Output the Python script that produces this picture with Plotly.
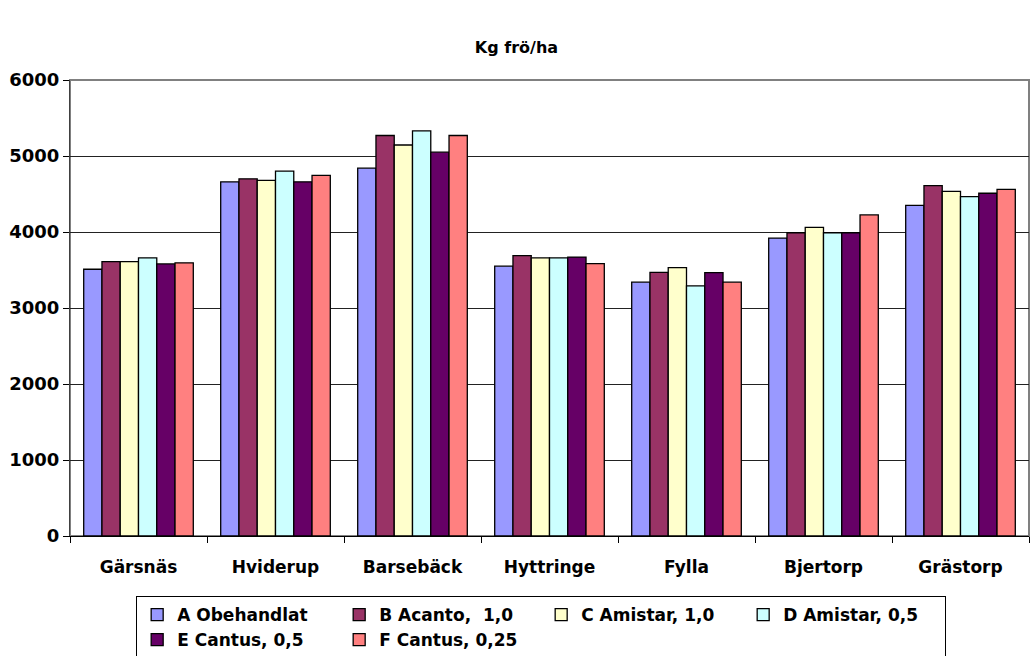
import plotly.graph_objects as go

categories = ["Gärsnäs", "Hviderup", "Barsebäck", "Hyttringe", "Fylla", "Bjertorp", "Grästorp"]
series_names = ["A Obehandlat", "B Acanto,  1,0", "C Amistar, 1,0", "D Amistar, 0,5", "E Cantus, 0,5", "F Cantus, 0,25"]
a_vals = [3510, 4660, 4840, 3550, 3340, 3920, 4350]
b_vals = [3610, 4700, 5270, 3690, 3470, 3990, 4610]
c_vals = [3610, 4680, 5145, 3660, 3530, 4060, 4535]
d_vals = [3660, 4800, 5330, 3660, 3290, 3990, 4465]
e_vals = [3580, 4660, 5050, 3670, 3465, 3990, 4510]
f_vals = [3595, 4745, 5270, 3585, 3340, 4225, 4560]
y_ticks = [0, 1000, 2000, 3000, 4000, 5000, 6000]
colors = ["#9999FF", "#993366", "#FFFFCC", "#CCFFFF", "#660066", "#FF8080"]

values = [a_vals, b_vals, c_vals, d_vals, e_vals, f_vals]
FONT = "DejaVu Sans, Arial, sans-serif"

fig = go.Figure()
for name, vals, col in zip(series_names, values, colors):
    fig.add_trace(go.Bar(
        x=categories, y=vals, name="<b>" + name + "</b>",
        marker=dict(color=col, line=dict(color="#000000", width=1.3)),
    ))

fig.update_layout(
    width=1033, height=656,
    margin=dict(l=70, r=4, t=80, b=120, autoexpand=False),
    paper_bgcolor="white", plot_bgcolor="white",
    barmode="group", bargap=0.2, bargroupgap=0,
    font=dict(family=FONT, color="#000000"),
    title=dict(text="<b>Kg frö/ha</b>", x=0.5, xanchor="center", y=0.928, yanchor="middle",
               font=dict(size=16, family=FONT)),
    showlegend=True,
    legend=dict(
        orientation="h", x=0.069, xanchor="left", y=-0.1316, yanchor="top",
        entrywidth=157, entrywidthmode="pixels",
        bordercolor="#000000", borderwidth=1,
        font=dict(size=17, family=FONT),
        traceorder="normal", itemwidth=30,
    ),
    xaxis=dict(
        showline=True, linecolor="#000000", linewidth=1,
        ticks="outside", tickson="boundaries", ticklen=6, tickcolor="#000000",
        tickfont=dict(size=17, family=FONT),
        tickprefix="<b>", ticksuffix="</b>",
        ticklabelstandoff=16,
        showgrid=False,
    ),
    yaxis=dict(
        range=[0, 6000], tickvals=y_ticks,
        ticktext=[f"<b>{t}</b>" for t in y_ticks],
        showline=True, linecolor="#404040", linewidth=1,
        ticks="outside", ticklen=6, tickcolor="#000000",
        tickfont=dict(size=18, family=FONT),
        showgrid=True, gridcolor="#222222", gridwidth=1,
        zeroline=False,
    ),
)

# gray plot border (top and right)
fig.add_shape(type="rect", xref="x domain", yref="y domain", x0=0, x1=1, y0=0, y1=1,
              line=dict(color="#808080", width=2), layer="below")

fig.write_html("out.html", config={"displayModeBar": False},
               post_script="document.body.style.margin='0';")
